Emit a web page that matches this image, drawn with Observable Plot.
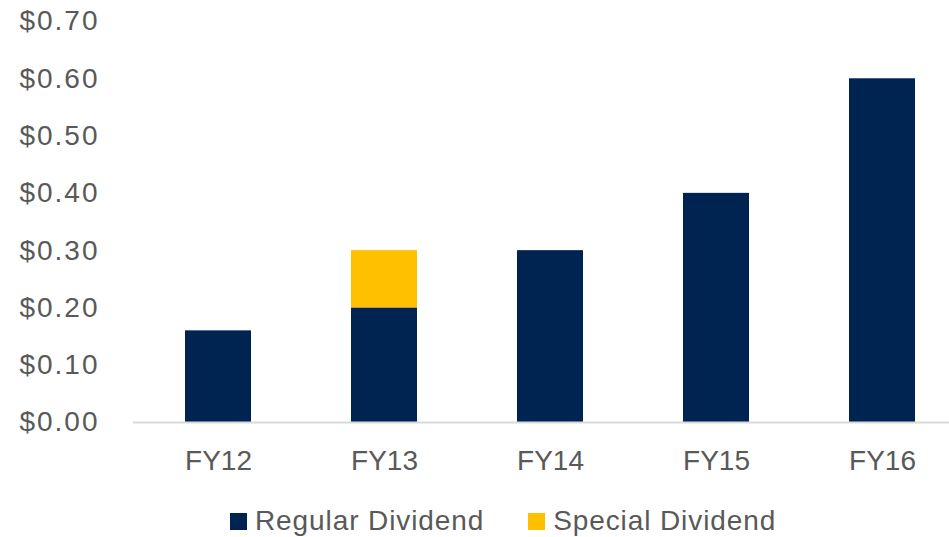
<!DOCTYPE html>
<html>
<head>
<meta charset="utf-8">
<script src="https://cdn.jsdelivr.net/npm/d3@7"></script>
<script src="https://cdn.jsdelivr.net/npm/@observablehq/plot@0.6"></script>
<style>
  html, body { margin: 0; padding: 0; background: #fff; }
  #chart { width: 949px; height: 537px; position: relative; overflow: hidden; font-family: "Liberation Sans", Arial, sans-serif; }
  .legend { position: absolute; top: 505px; left: 230px; display: flex; align-items: center; font-size: 28px; color: #595959; letter-spacing: 0.9px; }
  .legend .item { display: flex; align-items: center; }
  .legend .sw { width: 17px; height: 17px; margin-right: 8px; }
  .yax text { letter-spacing: 2px; }
</style>
</head>
<body>
<div id="chart"></div>
<script>
const categories = ["FY12", "FY13", "FY14", "FY15", "FY16"];
const regularDividend = [0.16, 0.20, 0.30, 0.40, 0.60];
const specialDividend = [0, 0.10, 0, 0, 0];
const seriesNames = ["Regular Dividend", "Special Dividend"];
const seriesColors = ["#002452", "#FFC000"];
const yTicks = [0, 0.1, 0.2, 0.3, 0.4, 0.5, 0.6, 0.7];

const data = [];
categories.forEach((c, i) => {
  data.push({cat: c, series: seriesNames[0], value: regularDividend[i]});
  data.push({cat: c, series: seriesNames[1], value: specialDividend[i]});
});

const plot = Plot.plot({
  width: 949,
  height: 490,
  marginLeft: 133,
  marginRight: 0,
  marginTop: 21,
  marginBottom: 68,
  style: { fontFamily: "Liberation Sans, Arial, sans-serif", fontSize: "28px", color: "#595959", background: "transparent" },
  x: { domain: categories, range: [133.2, 966.8], paddingInner: 0.6, paddingOuter: 0.3, label: null },
  y: { domain: [0, 0.7], label: null },
  color: { domain: seriesNames, range: seriesColors },
  marks: [
    Plot.barY(data, Plot.stackY({ x: "cat", y: "value", fill: "series", order: seriesNames })),
    Plot.ruleY([0], { stroke: "#d9d9d9", strokeWidth: 2 }),
    Plot.axisY({ ticks: yTicks, tickSize: 0, tickPadding: 34, tickFormat: d => "$" + d.toFixed(2), label: null, fill: "#595959", className: "yax" }),
    Plot.axisX({ tickSize: 0, tickPadding: 28, label: null, fill: "#595959" })
  ]
});
const chart = document.getElementById("chart");
chart.appendChild(plot);

const legend = document.createElement("div");
legend.className = "legend";
seriesNames.forEach((name, i) => {
  const item = document.createElement("div");
  item.className = "item";
  if (i > 0) item.style.marginLeft = "44px";
  const sw = document.createElement("div");
  sw.className = "sw";
  sw.style.background = seriesColors[i];
  const label = document.createElement("span");
  label.textContent = name;
  item.appendChild(sw);
  item.appendChild(label);
  legend.appendChild(item);
});
chart.appendChild(legend);
</script>
</body>
</html>
